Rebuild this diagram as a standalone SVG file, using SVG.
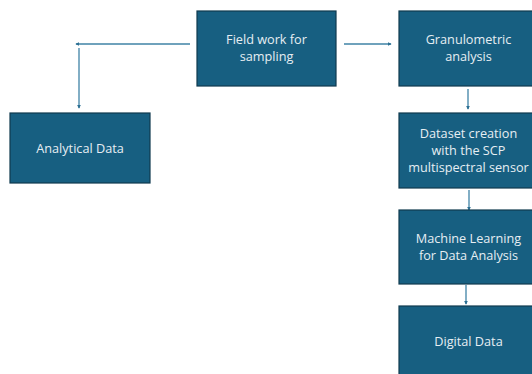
<svg xmlns="http://www.w3.org/2000/svg" width="532" height="374" viewBox="0 0 532 374">
  <style>
    .box { fill: #175f81; stroke: #0f3a4f; stroke-width: 1.2; }
    .lbl { font-family: "Open Sans", "Liberation Sans", Arial, sans-serif; font-size: 12.7px; fill: #e6eef3; text-anchor: middle; }
    .conn { stroke: #3f83a6; stroke-width: 1.3; fill: none; marker-end: url(#tip); }
  </style>
  <defs>
    <marker id="tip" viewBox="0 0 6 6" refX="5" refY="3" markerWidth="4" markerHeight="4" orient="auto" markerUnits="userSpaceOnUse">
      <path d="M0,0 L6,3 L0,6 z" fill="#2c6f93"/>
    </marker>
  </defs>

  <rect width="532" height="374" fill="#ffffff"/>

  <g id="connectors">
    <line class="conn" x1="190" y1="44" x2="76" y2="44"/>
    <line class="conn" x1="79" y1="48" x2="79" y2="108"/>
    <line class="conn" x1="344" y1="44" x2="391" y2="44"/>
    <line class="conn" x1="468" y1="89" x2="468" y2="109"/>
    <line class="conn" x1="469" y1="190" x2="469" y2="210"/>
    <line class="conn" x1="466" y1="285" x2="466" y2="304"/>
  </g>

  <g id="field-work">
    <rect class="box" x="197" y="11" width="139" height="75"/>
    <text class="lbl" x="266.5" y="44">Field work for</text>
    <text class="lbl" x="266.5" y="61">sampling</text>
  </g>

  <g id="analytical-data">
    <rect class="box" x="10" y="113" width="140" height="70"/>
    <text class="lbl" x="80" y="152.5">Analytical Data</text>
  </g>

  <g id="granulometric">
    <rect class="box" x="399" y="11" width="139" height="75"/>
    <text class="lbl" x="468.5" y="44">Granulometric</text>
    <text class="lbl" x="468.5" y="61">analysis</text>
  </g>

  <g id="dataset">
    <rect class="box" x="399" y="113" width="139" height="75"/>
    <text class="lbl" x="468.5" y="138">Dataset creation</text>
    <text class="lbl" x="468.5" y="155">with the SCP</text>
    <text class="lbl" x="468.5" y="172">multispectral sensor</text>
  </g>

  <g id="machine-learning">
    <rect class="box" x="399" y="210" width="139" height="74"/>
    <text class="lbl" x="468.5" y="243">Machine Learning</text>
    <text class="lbl" x="468.5" y="260">for Data Analysis</text>
  </g>

  <g id="digital-data">
    <rect class="box" x="399" y="306" width="139" height="75"/>
    <text class="lbl" x="468.5" y="346">Digital Data</text>
  </g>
</svg>
